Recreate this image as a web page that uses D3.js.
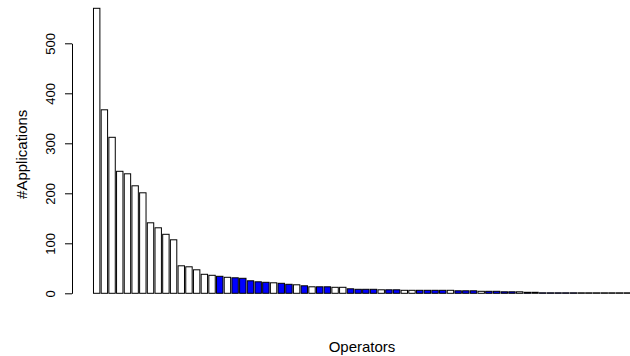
<!DOCTYPE html>
<html>
<head>
<meta charset="utf-8">
<script src="https://cdn.jsdelivr.net/npm/d3@7"></script>
<style>
    body { margin: 0; background: #fff; }
    svg { display: block; }
</style>
</head>
<body>
<svg id="chart" width="630" height="356"></svg>
<script>
// applications per operator, sorted decreasing
const counts = [
    570, 367, 312, 244, 239, 215, 201, 141, 131, 118,
    107, 55, 53, 47, 38, 36, 34, 32, 31, 30,
    25, 23, 22, 21, 20, 18, 17, 15, 13, 13,
    13, 12, 12, 9, 8, 8, 8, 7, 7, 7,
    6, 6, 6, 6, 6, 6, 6, 5, 5, 5,
    4, 4, 4, 3, 3, 3, 2, 2, 1, 1,
    1, 1, 1, 1, 1, 1, 1, 1, 1, 1
];
// 1 = blue operator, 0 = white
const isBlue = [
    0, 0, 0, 0, 0, 0, 0, 0, 0, 0,
    0, 0, 0, 0, 0, 0, 1, 0, 1, 1,
    1, 1, 1, 0, 1, 1, 0, 1, 0, 1,
    1, 0, 0, 1, 1, 1, 1, 0, 1, 1,
    0, 0, 1, 1, 1, 1, 0, 1, 1, 1,
    0, 1, 1, 1, 1, 0, 1, 0, 1, 1,
    1, 1, 1, 0, 0, 0, 0, 0, 0, 0
];
const yTicks = [0, 100, 200, 300, 400, 500];

const svg = d3.select('#chart');
const fontFamily = 'Liberation Sans, Arial, sans-serif';

// plot region (R style: bars of width 1, space 0.2, 4% axis expansion)
const plotLeft = 72, plotRight = 652;
const n = counts.length;
const lo = 0.2, hi = 1.2 * n;
const pad = (hi - lo) * 0.04;

const x = d3.scaleLinear()
    .domain([lo - pad, hi + pad])
    .range([plotLeft, plotRight]);

const y = d3.scaleLinear()
    .domain([0, 500])
    .range([293.3, 43.3]);

// bars
svg.append('g')
    .selectAll('rect')
    .data(counts)
    .join('rect')
    .attr('x', (d, i) => x(0.2 + 1.2 * i))
    .attr('y', d => y(d))
    .attr('width', x(1) - x(0))
    .attr('height', d => y(0) - y(d))
    .style('fill', (d, i) => isBlue[i] ? '#0000ff' : '#ffffff')
    .style('stroke', '#000')
    .style('stroke-width', 1);

// y axis
const yAxis = svg.append('g')
    .attr('transform', 'translate(' + plotLeft + ',0)')
    .call(d3.axisLeft(y).tickValues(yTicks).tickSize(7).tickSizeOuter(0));

yAxis.select('.domain').attr('stroke', '#000');
yAxis.selectAll('.tick line').attr('stroke', '#000');
yAxis.selectAll('.tick text')
    .attr('font-family', fontFamily)
    .attr('font-size', 13)
    .attr('fill', '#000')
    .attr('text-anchor', 'middle')
    .attr('transform', 'rotate(-90)')
    .attr('x', 0)
    .attr('dx', 0)
    .attr('dy', 0)
    .attr('y', -17);

// axis titles
svg.append('text')
    .text('#Applications')
    .attr('transform', 'translate(27,' + ((y(0) + y(500)) / 2 - 14) + ') rotate(-90)')
    .attr('text-anchor', 'middle')
    .attr('font-family', fontFamily)
    .attr('font-size', 15)
    .attr('fill', '#000');

svg.append('text')
    .text('Operators')
    .attr('x', (plotLeft + plotRight) / 2)
    .attr('y', 352)
    .attr('text-anchor', 'middle')
    .attr('font-family', fontFamily)
    .attr('font-size', 15)
    .attr('fill', '#000');
</script>
</body>
</html>
